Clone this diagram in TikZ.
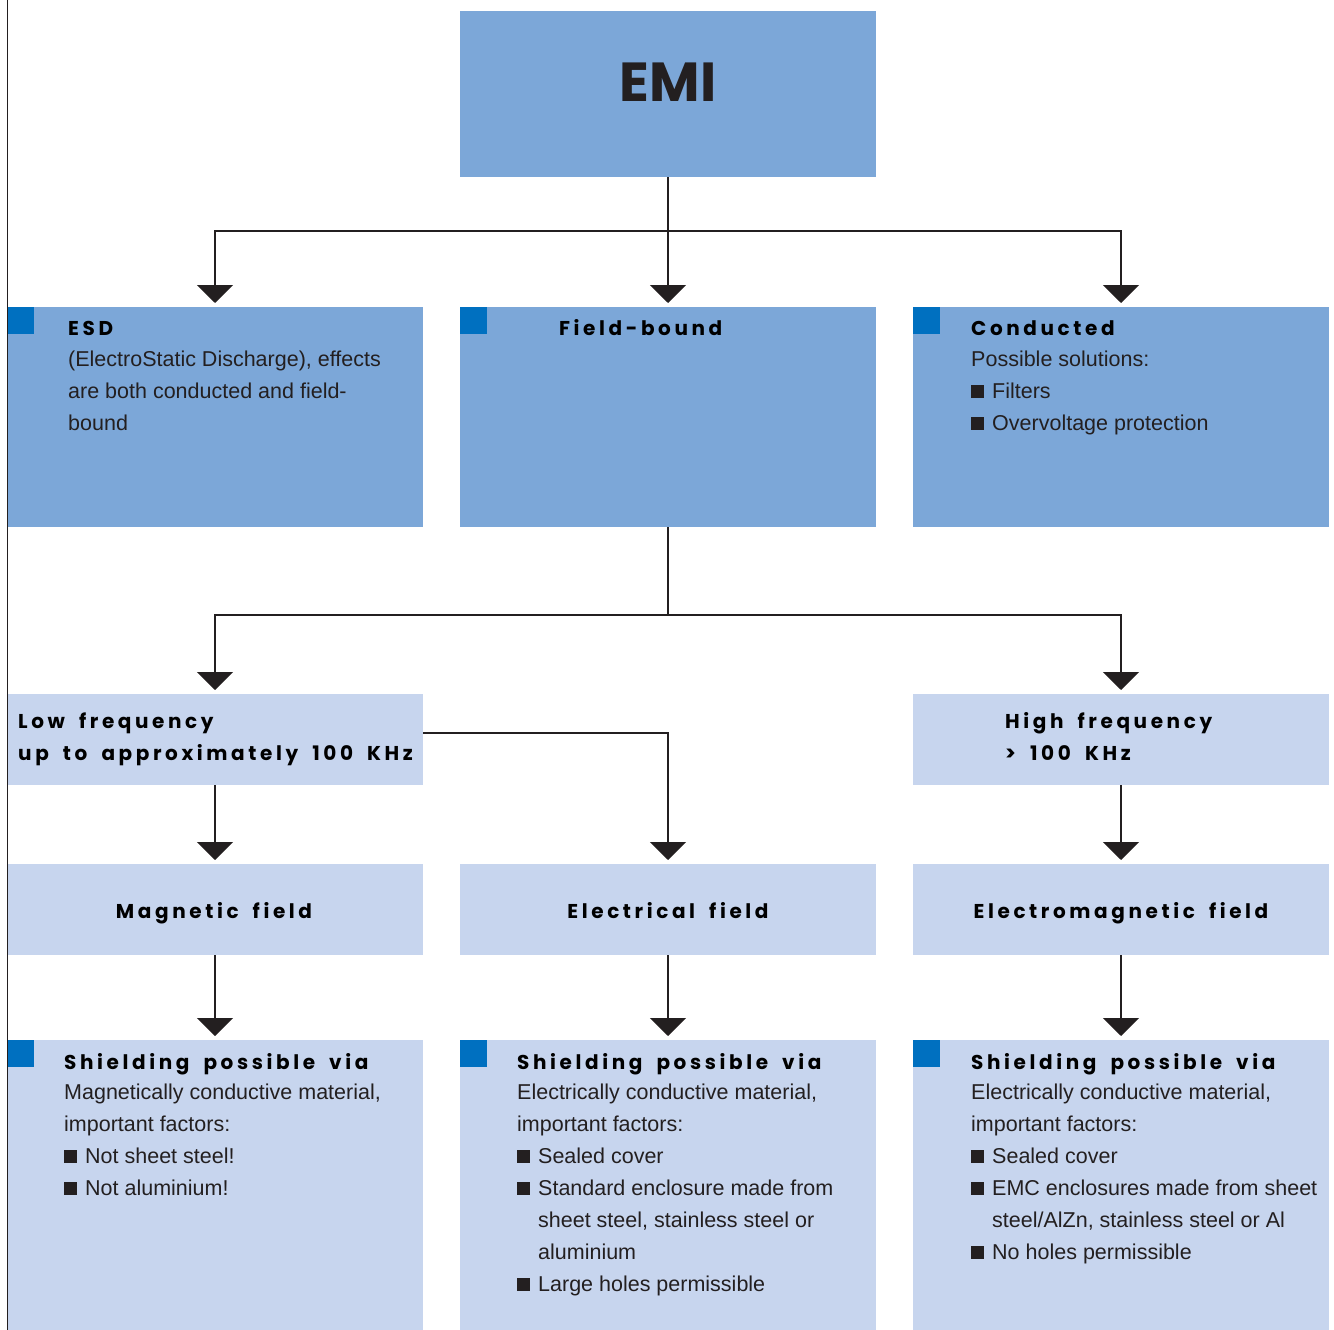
\documentclass[tikz,border=0pt]{standalone}
\usepackage{fontspec}
\setmainfont{Liberation Sans}
\newfontfamily\headfont{Poppins}[LetterSpace=18, WordSpace=1.8]
\newfontfamily\emifont{Poppins}
\usetikzlibrary{arrows.meta}
\definecolor{darkfill}{RGB}{124,167,216}
\definecolor{lightfill}{RGB}{199,213,238}
\definecolor{markblue}{RGB}{0,112,192}
\definecolor{ink}{RGB}{35,31,32}
\newcommand{\bul}{\textcolor{ink}{\rule{13pt}{13pt}}\hspace{8pt}}
\newcommand{\ind}{\hphantom{\bul}}
\newcommand{\fs}{\rule{0pt}{20pt}}
\tikzset{
  box/.style={rectangle, inner sep=0pt, outer sep=0pt, anchor=north west, minimum width=416pt},
  darkbox/.style={box, fill=darkfill, minimum height=220pt},
  lightbox/.style={box, fill=lightfill, minimum height=91pt},
  shieldbox/.style={box, fill=lightfill, minimum height=290pt},
  marker/.style={rectangle, fill=markblue, inner sep=0pt, minimum size=27pt, anchor=north west},
  conn/.style={line width=2.2pt, draw=ink},
  arr/.style={conn, -{Triangle[width=36pt,length=18pt]}, shorten >=4pt},
  head/.style={font=\headfont\bfseries\fontsize{20}{24}\selectfont, text=black, inner sep=0pt, anchor=base west},
  chead/.style={head, anchor=base},
  body/.style={font=\fontsize{21.5}{32}\selectfont, text=ink, inner sep=0pt, anchor=north west, align=left},
}
\begin{document}
\begin{tikzpicture}[x=1pt,y=-1pt]
\useasboundingbox (0,0) rectangle (1334,1330);
% boxes
\node[box, fill=darkfill, minimum height=166pt] (emi) at (460,11) {};
\node[darkbox] (esd) at (7,307) {};
\node[darkbox] (field) at (460,307) {};
\node[darkbox] (cond) at (913,307) {};
\node[lightbox] (low) at (7,694) {};
\node[lightbox] (high) at (913,694) {};
\node[lightbox] (mag) at (7,864) {};
\node[lightbox] (elec) at (460,864) {};
\node[lightbox] (emag) at (913,864) {};
\node[shieldbox] (sh1) at (7,1040) {};
\node[shieldbox] (sh2) at (460,1040) {};
\node[shieldbox] (sh3) at (913,1040) {};
% markers
\node[marker] (m1) at (7,307) {};
\node[marker] (m2) at (460,307) {};
\node[marker] (m3) at (913,307) {};
\node[marker] (m4) at (7,1040) {};
\node[marker] (m5) at (460,1040) {};
\node[marker] (m6) at (913,1040) {};
% left rule
\draw[line width=1.5pt, ink] (7.3,0) -- (7.3,1330);
% connectors
\coordinate (j1) at (668,231);
\coordinate (j2) at (668,615);
\draw[conn] (emi.south) -- (j1);
\draw[arr] (j1) -| (esd.north);
\draw[arr] (j1) -- (field.north);
\draw[arr] (j1) -| (cond.north);
\draw[conn] (field.south) -- (j2);
\draw[arr] (j2) -| (low.north);
\draw[arr] (j2) -| (high.north);
\draw[arr] ([yshift=6.5pt]low.east) -| (elec.north);
\draw[arr] (low.south) -- (mag.north);
\draw[arr] (high.south) -- (emag.north);
\draw[arr] (mag.south) -- (sh1.north);
\draw[arr] (elec.south) -- (sh2.north);
\draw[arr] (emag.south) -- (sh3.north);
% texts
\node[inner sep=0pt, anchor=base, text=ink, font=\emifont\bfseries\fontsize{55}{60}\selectfont] (emit) at (668,102) {EMI};
\node[head] (esdh) at (68,335) {ESD};
\node[body] (esdb) at (68,346) {\fs(ElectroStatic Discharge), effects\\are both conducted and field-\\bound};
\node[head] (fieldh) at (559,335) {Field-bound};
\node[head] (condh) at (971,335) {Conducted};
\node[body] (condb) at (971,346) {\fs Possible solutions:\\\bul Filters\\\bul Overvoltage protection};
\node[head] (lowa) at (18,728) {Low frequency};
\node[head] (lowb) at (18,760) {up to approximately 100 KHz};
\node[head] (higha) at (1005,728) {High frequency};
\node[head] (highb) at (1005,760) {> 100 KHz};
\node[chead] (magt) at (214,918) {Magnetic field};
\node[chead] (elect) at (668,918) {Electrical field};
\node[chead] (emagt) at (1121,918) {Electromagnetic field};
\node[head] (sh1h) at (64,1069) {Shielding possible via};
\node[head] (sh2h) at (517,1069) {Shielding possible via};
\node[head] (sh3h) at (971,1069) {Shielding possible via};
\node[body] (sh1b) at (64,1079) {\fs Magnetically conductive material,\\important factors:\\\bul Not sheet steel!\\\bul Not aluminium!};
\node[body] (sh2b) at (517,1079) {\fs Electrically conductive material,\\important factors:\\\bul Sealed cover\\\bul Standard enclosure made from\\\ind sheet steel, stainless steel or\\\ind aluminium\\\bul Large holes permissible};
\node[body] (sh3b) at (971,1079) {\fs Electrically conductive material,\\important factors:\\\bul Sealed cover\\\bul EMC enclosures made from sheet\\\ind steel/AlZn, stainless steel or Al\\\bul No holes permissible};
\end{tikzpicture}
\end{document}
